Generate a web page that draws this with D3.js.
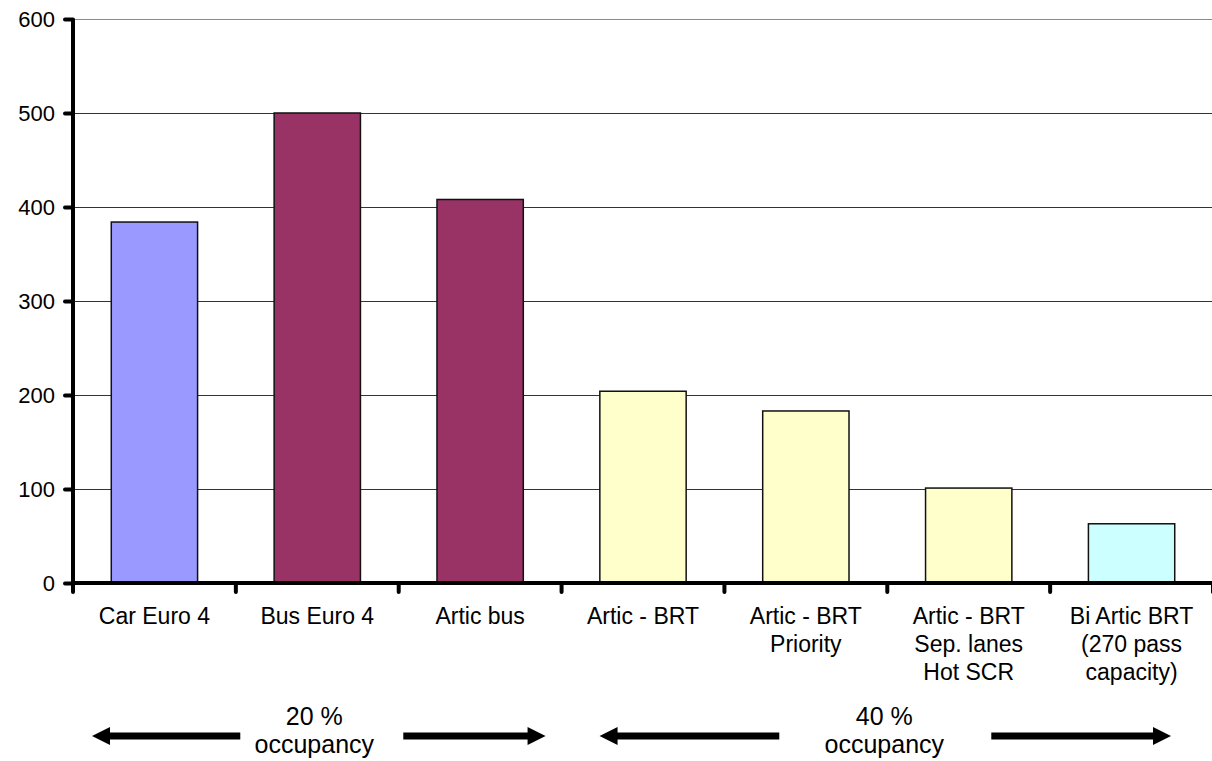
<!DOCTYPE html>
<html>
<head>
<meta charset="utf-8">
<script src="https://cdn.jsdelivr.net/npm/d3@7/dist/d3.min.js"></script>
<style>
  html, body { margin: 0; padding: 0; background: #fff; }
  svg { display: block; }
  text { font-family: "Liberation Sans", Arial, sans-serif; fill: #000; }
</style>
</head>
<body>
<svg id="chart" width="1212" height="761"></svg>
<script>
// Vehicle categories (each entry is the wrapped label lines)
const categories = [
  ["Car Euro 4"],
  ["Bus Euro 4"],
  ["Artic bus"],
  ["Artic - BRT"],
  ["Artic - BRT", "Priority"],
  ["Artic - BRT", "Sep. lanes", "Hot SCR"],
  ["Bi Artic BRT", "(270 pass", "capacity)"]
];
const values = [384, 500, 408, 204, 183, 101, 63];
const barColors = ["#9999FF", "#993366", "#993366", "#FFFFCC", "#FFFFCC", "#FFFFCC", "#CCFFFF"];
const yTicks = [0, 100, 200, 300, 400, 500, 600];

// Occupancy groups: first/last category index covered by each arrow span
const groupLabels = [["20 %", "occupancy"], ["40 %", "occupancy"]];
const groupStart = [0, 3];
const groupEnd = [2, 6];

const svg = d3.select("#chart");
const margin = { left: 73, right: -1, top: 19, bottom: 178 };
const W = 1212, H = 761;
const x0 = margin.left, x1 = W - margin.right;
const yTop = margin.top, yBot = H - margin.bottom;

const ids = categories.map((d, i) => i);
const x = d3.scaleBand().domain(ids).range([x0, x1]).paddingInner(0.47).paddingOuter(0.235);
const y = d3.scaleLinear().domain([0, 600]).range([yBot, yTop]);
const step = x.step();
const boundary = i => x0 + i * step;

// Gridlines
svg.append("g")
  .selectAll("line")
  .data(yTicks.filter(t => t > 0))
  .join("line")
  .attr("x1", x0).attr("x2", W)
  .attr("y1", d => Math.round(y(d)) + 0.5).attr("y2", d => Math.round(y(d)) + 0.5)
  .attr("stroke", d => d === 600 ? "#8a8a8a" : "#333")
  .attr("stroke-width", 1);

// Bars
svg.append("g")
  .selectAll("rect")
  .data(values)
  .join("rect")
  .attr("x", (d, i) => x(i))
  .attr("y", d => y(d))
  .attr("width", x.bandwidth())
  .attr("height", d => yBot - y(d))
  .attr("fill", (d, i) => barColors[i])
  .attr("stroke", "#111")
  .attr("stroke-width", 1.5);

// Y axis
const yAxis = d3.axisLeft(y).tickValues(yTicks).tickSize(8).tickPadding(10);
const gy = svg.append("g").attr("transform", `translate(${x0},0)`).call(yAxis);
gy.select(".domain").remove();
gy.selectAll(".tick line").attr("stroke", "#000").attr("stroke-width", 4).attr("stroke-linecap", "round");
gy.selectAll(".tick text").attr("font-size", 22).attr("font-family", "Liberation Sans, Arial, sans-serif").attr("fill", "#000");
svg.append("line")
  .attr("x1", x0).attr("x2", x0)
  .attr("y1", yTop).attr("y2", yBot + 2)
  .attr("stroke", "#000").attr("stroke-width", 4);

// X axis line and boundary ticks
svg.append("line")
  .attr("x1", x0 - 2).attr("x2", W)
  .attr("y1", yBot).attr("y2", yBot)
  .attr("stroke", "#000").attr("stroke-width", 4);
svg.append("g")
  .selectAll("line")
  .data(d3.range(categories.length + 1))
  .join("line")
  .attr("x1", d => boundary(d)).attr("x2", d => boundary(d))
  .attr("y1", yBot).attr("y2", yBot + 9)
  .attr("stroke", "#000").attr("stroke-width", 4).attr("stroke-linecap", "round");

// Category labels
const lab = svg.append("g")
  .selectAll("text")
  .data(categories)
  .join("text")
  .attr("text-anchor", "middle")
  .attr("font-size", 23)
  .attr("x", (d, i) => x(i) + x.bandwidth() / 2)
  .attr("y", 624);
lab.selectAll("tspan")
  .data(d => d)
  .join("tspan")
  .attr("x", function () { return this.parentNode.getAttribute("x"); })
  .attr("dy", (d, j) => j === 0 ? 0 : 28)
  .text(d => d);

// Occupancy arrows: shaft from the label gap out to an arrowhead at each side
const arrowY = 736;
const tipInsetL = [19, 38], tipInsetR = [16, 42];
const gapL = [77, 108], gapR = [86, 104];
const headLen = 18, headHalf = 9, shaft = 7;

function arrow(from, tip) {
  const dir = Math.sign(tip - from);
  const base = tip - dir * headLen;
  svg.append("line")
    .attr("x1", from).attr("x2", base + dir * 1)
    .attr("y1", arrowY).attr("y2", arrowY)
    .attr("stroke", "#000").attr("stroke-width", shaft);
  svg.append("path")
    .attr("d", `M${tip},${arrowY} L${base},${arrowY - headHalf} L${base},${arrowY + headHalf} Z`)
    .attr("fill", "#000");
}

groupLabels.forEach((g, k) => {
  const s = boundary(groupStart[k]);
  const e = boundary(groupEnd[k] + 1);
  const mid = (s + e) / 2;
  arrow(mid - gapL[k], s + tipInsetL[k]);
  arrow(mid + gapR[k], e - tipInsetR[k]);
  const t = svg.append("text")
    .attr("text-anchor", "middle")
    .attr("font-size", 25)
    .attr("x", mid - 3).attr("y", 725);
  t.selectAll("tspan").data(g).join("tspan")
    .attr("x", mid - 3)
    .attr("dy", (d, j) => j === 0 ? 0 : 28)
    .text(d => d);
});
</script>
</body>
</html>
